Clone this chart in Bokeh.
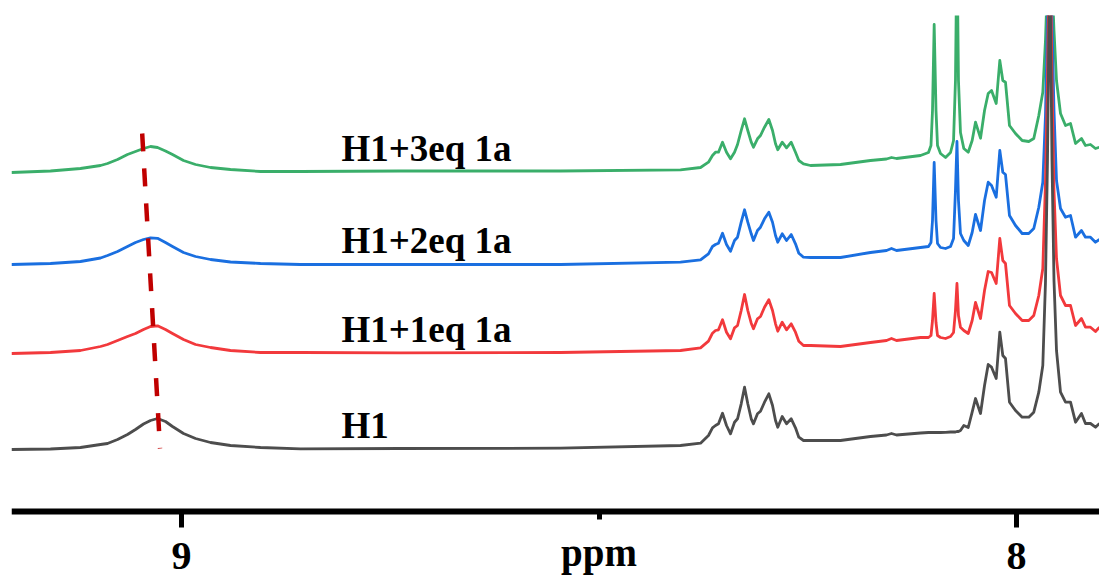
from bokeh.plotting import figure
from bokeh.models import Range1d, FixedTicker, Label
from bokeh.embed import file_html
from bokeh.resources import INLINE

# chemical shift grid (ppm)
ppm = [9.2036, 9.1569, 9.1210, 9.0970, 9.0886, 9.0766, 9.0647, 9.0551, 9.0455, 9.0371, 9.0287,
       9.0192, 9.0108, 8.9976, 8.9832, 8.9653, 8.9413, 8.9054, 8.8575, 8.7377, 8.5461, 8.4024,
       8.3784, 8.3689, 8.3641, 8.3605, 8.3569, 8.3521, 8.3473, 8.3425, 8.3377, 8.3341, 8.3297,
       8.3257, 8.3218, 8.3177, 8.3150, 8.3102, 8.3066, 8.3018, 8.2966, 8.2922, 8.2886, 8.2859,
       8.2806, 8.2754, 8.2698, 8.2647, 8.2607, 8.2551, 8.2467,
       8.2108, 8.1749, 8.1557, 8.1497, 8.1437, 8.1150, 8.1054, 8.1024, 8.1006, 8.0986, 8.0964,
       8.0946, 8.0910, 8.0850, 8.0790, 8.0754, 8.0731, 8.0713, 8.0695, 8.0671, 8.0631, 8.0578,
       8.0531, 8.0491, 8.0431, 8.0383, 8.0339, 8.0299, 8.0243, 8.0200, 8.0164, 8.0132, 8.0084,
       8.0012, 7.9932, 7.9853, 7.9793, 7.9733, 7.9685, 7.9653, 7.9629, 7.9601, 7.9575, 7.9551,
       7.9521, 7.9473, 7.9413, 7.9353, 7.9293, 7.9222, 7.9174, 7.9114, 7.9054, 7.9006]

# intensities (arbitrary units, relative to each trace's own baseline)
h1 = [0, 0.5, 2, 5, 6, 10, 15, 20, 25.5, 29, 31, 28, 23, 16, 11, 7, 4, 2, 0.7, 1, 1.3, 4,
      6.3, 14, 21.7, 24, 25.7, 36.3, 24, 15.7, 27.3, 30.7, 45.7, 62.3, 45.7, 30.7, 25.7, 35.7,
      38.3, 47.3, 55.7, 44, 29, 22.3, 33, 25.7, 30.7, 21.7, 12.3, 9, 9,
      9, 13, 14.5, 16, 14.5, 16.5, 17, 17, 17, 17, 17, 17, 17, 17.2, 17.5, 17.5, 17.5, 18, 18,
      19, 24, 22, 37.3, 51, 36, 64, 85, 82.3, 71, 117.3, 94, 91, 47.3, 39, 32.3, 32.3, 37.3,
      57.3, 84, 167.3, 289, 499, 289, 169, 99, 57.3, 47.3, 47.3, 27.3, 36, 26, 26, 22.3, 26]

h1_1eq = [0, 1, 3, 7, 9, 13, 17, 20, 24, 27, 27.7, 24, 20, 14, 9, 6, 3, 1, 1, 0.7, 1, 3,
          5.7, 12.3, 20.3, 23, 23.7, 33.7, 21.3, 14.7, 25.7, 28, 43, 59, 43, 30.3, 24.7, 34.7,
          37, 46.3, 53.7, 43, 29.7, 22.3, 31.3, 23.7, 29.7, 21.3, 12.3, 8, 8,
          7, 11, 13, 15, 13, 16, 16, 18, 33, 60, 31, 18, 16, 15, 17, 21, 43, 70, 38, 26.3,
          23, 20, 33, 51, 35, 63, 82, 81, 70, 115, 93, 90, 48, 40, 33, 33, 38, 58, 85, 171.3,
          273, 453, 273, 163, 95, 58, 48, 48, 28, 35, 26.3, 26.3, 22, 26.3]

h1_2eq = [0, 1, 3, 6.5, 9, 13, 18, 22, 25, 26.7, 26.2, 22, 18, 12, 8, 5, 2.5, 1, 0, 0, 0, 2.3,
          4.7, 10.7, 18, 20, 21.3, 31.3, 20, 13.3, 24, 27.3, 42.3, 54.7, 42.3, 30.7, 24, 34,
          37.3, 45.7, 52.3, 42.3, 29, 22.3, 30.7, 24, 30, 20.7, 11.3, 7.3, 7,
          7, 12, 14, 16, 14, 17, 18, 22, 44, 102, 44, 21, 17, 16, 18, 26, 74, 123, 64, 31,
          24, 19, 32, 50, 34, 64, 82.3, 79, 67.3, 114, 92.3, 90, 49, 39, 31, 31, 36, 57.3,
          82.3, 149, 244, 414, 244, 154, 84, 56, 47.3, 49, 27.3, 34, 27.3, 27.3, 22.3, 25]

h1_3eq = [0, 1.5, 4, 7, 9, 13, 18, 21, 24, 26, 25, 21.5, 18, 12, 8, 5, 3, 1, 1, 1.5, 1.5, 2.7,
          5, 10.3, 17, 20.3, 20.3, 30.3, 20.3, 13.7, 20.3, 28, 42, 53.7, 42, 30.3, 25.3, 33.7,
          37, 45.3, 53, 42, 28.7, 22.7, 30.3, 24.7, 30.3, 20.3, 12, 8.7, 7,
          8, 12, 13.5, 15, 14, 17, 20, 27, 62, 148, 62, 27, 19, 15, 20, 32, 92, 232, 92, 40,
          24, 20.3, 32, 50.3, 34.3, 62, 79, 82, 69, 112, 92, 90.3, 47, 39, 32, 31, 34, 57,
          80.3, 132, 192, 372, 192, 142, 92, 59, 47, 49, 29, 34, 27, 28, 24, 25.3]

names = ["H1", "H1+1eq 1a", "H1+2eq 1a", "H1+3eq 1a"]
series = [h1, h1_1eq, h1_2eq, h1_3eq]
offsets = [62, 158, 247, 339]
colors = ["#4D4D4D", "#F2393C", "#1A6FE0", "#3AAE6A"]

# shift of the broad peak maximum (guide)
shift_ppm = [9.0471, 9.0257]
shift_level = [378, 63]

ticks = [9, 8]
minor = [8.5]
axis_title = "ppm"

p = figure(width=1099, height=577, output_backend="svg", toolbar_location=None,
           x_range=Range1d(9.2036, 7.9006), y_range=Range1d(-66, 496),
           y_axis_location=None, min_border_left=11, min_border_right=0,
           min_border_top=15, min_border_bottom=0)
p.outline_line_color = None
p.grid.visible = False
p.background_fill_color = "white"
p.border_fill_color = "white"

for i in [3, 2, 1, 0]:
    ys = [v + offsets[i] for v in series[i]]
    p.line(ppm, ys, line_color=colors[i], line_width=2.8, line_join="round")

p.line(shift_ppm, shift_level, line_color="#C00000", line_width=4.5, line_dash="18 17")

for i in range(4):
    p.add_layout(Label(x=8.8084, y=offsets[i] + 24, text=names[i], text_align="left",
                       text_baseline="alphabetic", text_font="Liberation Serif",
                       text_font_style="bold", text_font_size="37px", text_color="black"))

ax = p.xaxis[0]
ax.fixed_location = 0
ax.ticker = FixedTicker(ticks=ticks, minor_ticks=minor)
ax.axis_line_width = 6
ax.axis_line_color = "black"
ax.major_tick_in = 0
ax.major_tick_out = 16
ax.major_tick_line_width = 5
ax.minor_tick_in = 0
ax.minor_tick_out = 8
ax.minor_tick_line_width = 5
ax.major_label_text_font = "Liberation Serif"
ax.major_label_text_font_style = "bold"
ax.major_label_text_font_size = "40px"
ax.major_label_text_color = "black"
ax.major_label_standoff = 15

p.add_layout(Label(x=8.5, y=-41, text=axis_title,
                   text_align="center", text_baseline="alphabetic",
                   text_font="Liberation Serif", text_font_style="bold",
                   text_font_size="39px", text_color="black"))

open("out.html", "w").write(file_html(p, INLINE))
